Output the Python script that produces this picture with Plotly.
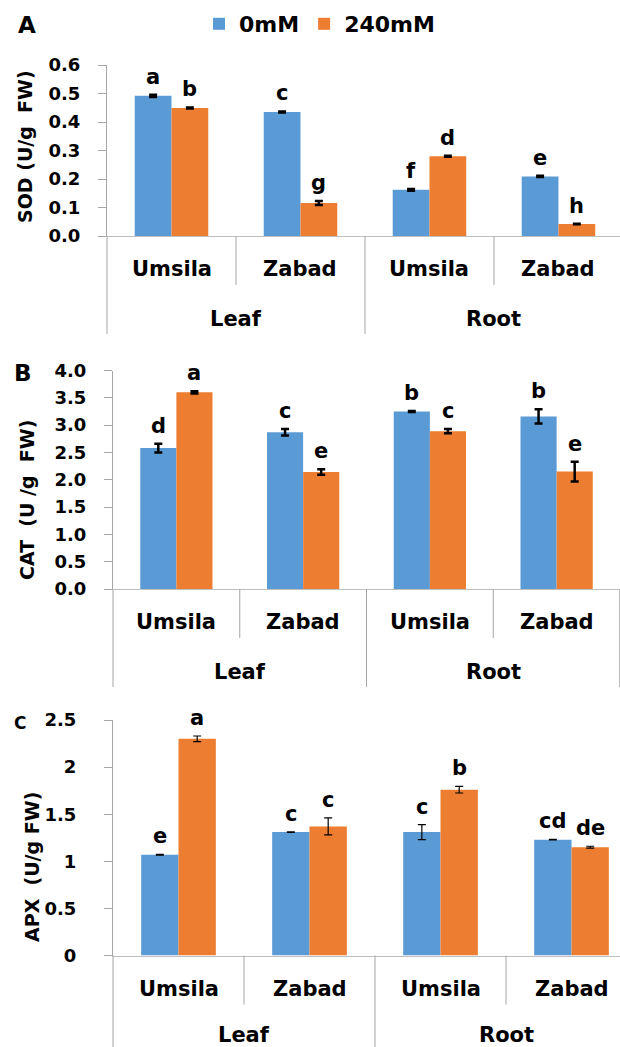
import plotly.graph_objects as go

W, H = 620, 1047
FONT = "DejaVu Sans"

# ---- data -------------------------------------------------------------
categories = ["Umsila", "Zabad", "Umsila", "Zabad"]
organs = ["Leaf", "Leaf", "Root", "Root"]
series_names = ["0mM", "240mM"]

sod_0 = [0.492, 0.435, 0.162, 0.209]
sod_0_err = [0.004, 0.002, 0.003, 0.002]
sod_240 = [0.449, 0.116, 0.280, 0.042]
sod_240_err = [0.002, 0.007, 0.002, 0.001]
sod_0_letters = ["a", "c", "f", "e"]
sod_240_letters = ["b", "g", "d", "h"]

cat_0 = [2.58, 2.87, 3.25, 3.16]
cat_0_err = [0.08, 0.06, 0.01, 0.13]
cat_240 = [3.60, 2.14, 2.89, 2.15]
cat_240_err = [0.02, 0.05, 0.04, 0.18]
cat_0_letters = ["d", "c", "b", "b"]
cat_240_letters = ["a", "e", "c", "e"]

apx_0 = [1.07, 1.31, 1.31, 1.23]
apx_0_err = [0.005, 0.003, 0.08, 0.003]
apx_240 = [2.30, 1.37, 1.76, 1.15]
apx_240_err = [0.03, 0.09, 0.035, 0.01]
apx_0_letters = ["e", "c", "c", "cd"]
apx_240_letters = ["a", "c", "b", "de"]

colors = ["#5B9BD5", "#ED7D31"]
AXIS_GREY = "#A6A6A6"
BASE_GREY = "#BFBFBF"

# ---- panel geometry (pixels) ------------------------------------------
panels = [
    dict(tag="A", title="SOD (U/g  FW)", left=107, top=65, base=236,
         xmax=3.477, ymax=0.6, dtick=0.1, fmt=".1f",
         vals=[(sod_0, sod_0_err, sod_0_letters), (sod_240, sod_240_err, sod_240_letters)],
         err_thick=2.5, tag_pos=(16, 25), tag_size=23, title_x=25, title_y=147,
         standoff=14, organ_shift=-83),
    dict(tag="B", title="CAT  (U /g  FW)", left=113, top=370.5, base=589,
         xmax=3.5, ymax=4.0, dtick=0.5, fmt=".1f",
         vals=[(cat_0, cat_0_err, cat_0_letters), (cat_240, cat_240_err, cat_240_letters)],
         err_thick=2.5, tag_pos=(12, 373), tag_size=23, title_x=27, title_y=500,
         standoff=14, organ_shift=-83),
    dict(tag="C", title="APX  (U/g FW)", left=113, top=720, base=955.5,
         xmax=3.37, ymax=2.5, dtick=0.5, fmt="",
         vals=[(apx_0, apx_0_err, apx_0_letters), (apx_240, apx_240_err, apx_240_letters)],
         err_thick=1.2, tag_pos=(12, 723), tag_size=17, title_x=32, title_y=867,
         standoff=24, organ_shift=-79),
]

BARGAP = 0.43
x_idx = list(range(len(categories)))


def px_x(p):
    return p / W


def px_y(p):
    return 1 - p / H


fig = go.Figure()
layout = dict(
    width=W, height=H,
    margin=dict(l=0, r=0, t=0, b=0, autoexpand=False),
    paper_bgcolor="white", plot_bgcolor="white",
    barmode="group", bargap=BARGAP, bargroupgap=0,
    font=dict(family=FONT, color="black"),
    showlegend=True,
    legend=dict(orientation="h", x=px_x(199), y=px_y(3), xanchor="left", yanchor="top",
                font=dict(family=FONT, size=22, weight="bold", color="black"),
                bgcolor="rgba(0,0,0,0)", itemwidth=30, traceorder="normal"),
)
annotations = []
shapes = []

for k, p in enumerate(panels):
    sfx = "" if k == 0 else str(k + 1)
    xa, ya = "x" + sfx, "y" + sfx
    r0, r1 = -0.5, p["xmax"]

    for s, (vals, errs, letters) in enumerate(p["vals"]):
        fig.add_trace(go.Bar(
            x=x_idx, y=vals, name=series_names[s],
            marker=dict(color=colors[s], line=dict(width=0)),
            error_y=dict(type="data", array=errs, visible=True, color="black",
                         thickness=p["err_thick"], width=4),
            xaxis=xa, yaxis=ya, showlegend=(k == 0), legendgroup=series_names[s],
        ))
        # significance letters above each error bar
        off = (1 - BARGAP) / 4 * (1 if s else -1)
        for i, (v, e, t) in enumerate(zip(vals, errs, letters)):
            annotations.append(dict(
                x=i + off, y=v + e, xref=xa, yref=ya, text=t, showarrow=False,
                yanchor="bottom", xanchor="center", yshift=4,
                font=dict(family=FONT, size=21, weight="bold", color="black")))

    layout["xaxis" + sfx] = dict(
        domain=[px_x(p["left"]), 1], range=[r0, r1], anchor=ya, automargin=False,
        showgrid=False, zeroline=False, showticklabels=False, ticks="",
        showline=True, linecolor=BASE_GREY, linewidth=1, fixedrange=True)
    layout["yaxis" + sfx] = dict(
        domain=[px_y(p["base"]), px_y(p["top"])], range=[0, p["ymax"]], anchor=xa,
        automargin=False, dtick=p["dtick"], tick0=0, tickformat=p["fmt"],
        showgrid=False, zeroline=False, showline=True, linecolor=AXIS_GREY, linewidth=1,
        ticks="outside", ticklen=8, tickcolor=AXIS_GREY, tickwidth=1,
        ticklabelstandoff=p["standoff"],
        tickfont=dict(family=FONT, size=18, weight="bold", color="black"),
        fixedrange=True)

    # category and organ labels beneath the axis
    for i, c in enumerate(categories):
        annotations.append(dict(
            x=i, y=0, xref=xa, yref=ya + " domain", text=c, showarrow=False,
            yanchor="middle", yshift=-33,
            font=dict(family=FONT, size=21, weight="bold", color="black")))
    groups = []
    for i, o in enumerate(organs):
        if not groups or groups[-1][0] != o:
            groups.append([o, i, i])
        else:
            groups[-1][2] = i
    for o, i0, i1 in groups:
        annotations.append(dict(
            x=(i0 + i1) / 2, y=0, xref=xa, yref=ya + " domain", text=o, showarrow=False,
            yanchor="middle", yshift=p["organ_shift"],
            font=dict(family=FONT, size=21, weight="bold", color="black")))

    # divider lines between categories (short) and between organs (long)
    bounds = [(i0 - 0.5, 98) for _, i0, _ in groups] + [(groups[-1][2] + 0.5, 98)]
    bounds += [(i - 0.5, 49) for i in range(1, len(categories))
               if organs[i] == organs[i - 1]]
    for b, ln in bounds:
        f = (b - r0) / (r1 - r0)
        if f > 1.0001:
            continue
        shapes.append(dict(
            type="line", xref=xa + " domain", yref=ya + " domain",
            x0=min(f, 0.9995), x1=min(f, 0.9995), ysizemode="pixel", yanchor=0, y0=0, y1=-ln,
            line=dict(color=AXIS_GREY, width=1)))

    # panel tag and y-axis title
    annotations.append(dict(
        x=px_x(p["tag_pos"][0]), y=px_y(p["tag_pos"][1]), xref="paper", yref="paper",
        text=p["tag"], showarrow=False, xanchor="left", yanchor="middle",
        font=dict(family=FONT, size=p["tag_size"], weight="bold", color="black")))
    annotations.append(dict(
        x=px_x(p["title_x"]), y=px_y(p["title_y"]), xref="paper", yref="paper",
        text=p["title"], showarrow=False, textangle=-90,
        xanchor="center", yanchor="middle",
        font=dict(family=FONT, size=19, weight="bold", color="black")))

layout["annotations"] = annotations
layout["shapes"] = shapes
fig.update_layout(**layout)
fig.write_html("out.html")
